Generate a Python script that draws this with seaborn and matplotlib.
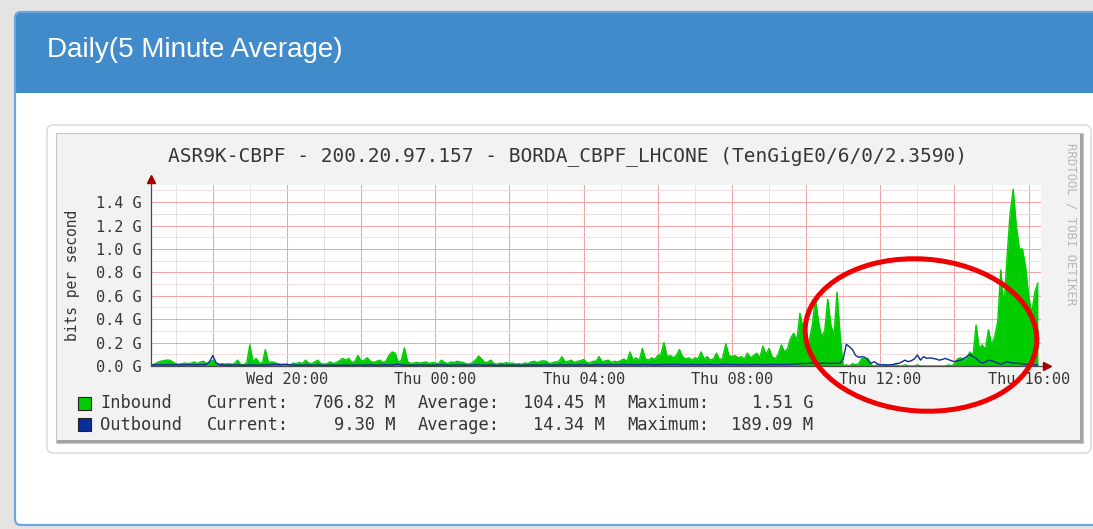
import numpy as np
import pandas as pd
import matplotlib
matplotlib.use("Agg")
import matplotlib.pyplot as plt
import seaborn as sns
from matplotlib.patches import Rectangle, FancyBboxPatch, Ellipse
from matplotlib.transforms import Affine2D
from matplotlib.ticker import MultipleLocator, FuncFormatter

# ---------------- data ----------------
panel_title = "Daily(5 Minute Average)"
graph_title = "ASR9K-CBPF - 200.20.97.157 - BORDA_CBPF_LHCONE (TenGigE0/6/0/2.3590)"
y_label = "bits per second"
watermark = "RRDTOOL / TOBI OETIKER"

start_hour = 16 + 20 / 60.0      # Wed 16:20 (hours since Wed 00:00)
step_minutes = 5

# Inbound, Gbit/s, 5-minute samples (one row = one hour)
inbound_g = [
    0.010, 0.015, 0.030, 0.040, 0.045, 0.050, 0.050, 0.035, 0.020, 0.015, 0.020, 0.025,
    0.020, 0.025, 0.035, 0.020, 0.035, 0.040, 0.020, 0.035, 0.050, 0.020, 0.015, 0.020,
    0.015, 0.020, 0.015, 0.020, 0.050, 0.015, 0.010, 0.030, 0.180, 0.040, 0.065, 0.030,
    0.020, 0.140, 0.030, 0.035, 0.030, 0.020, 0.015, 0.010, 0.015, 0.010, 0.025, 0.020,
    0.030, 0.020, 0.050, 0.025, 0.020, 0.035, 0.050, 0.020, 0.015, 0.020, 0.035, 0.020,
    0.030, 0.045, 0.065, 0.050, 0.065, 0.030, 0.040, 0.090, 0.040, 0.050, 0.070, 0.040,
    0.030, 0.040, 0.050, 0.030, 0.040, 0.090, 0.120, 0.110, 0.030, 0.050, 0.155, 0.040,
    0.020, 0.025, 0.030, 0.025, 0.030, 0.035, 0.020, 0.030, 0.025, 0.020, 0.050, 0.030,
    0.020, 0.035, 0.030, 0.040, 0.035, 0.030, 0.020, 0.015, 0.030, 0.050, 0.085, 0.060,
    0.030, 0.035, 0.050, 0.020, 0.015, 0.025, 0.020, 0.030, 0.020, 0.025, 0.015, 0.020,
    0.015, 0.025, 0.020, 0.035, 0.040, 0.030, 0.040, 0.045, 0.040, 0.020, 0.030, 0.035,
    0.040, 0.080, 0.035, 0.040, 0.050, 0.030, 0.040, 0.045, 0.055, 0.030, 0.025, 0.040,
    0.040, 0.080, 0.035, 0.045, 0.050, 0.030, 0.040, 0.035, 0.045, 0.060, 0.040, 0.120,
    0.050, 0.070, 0.045, 0.150, 0.060, 0.050, 0.070, 0.055, 0.090, 0.100, 0.200, 0.080,
    0.090, 0.070, 0.090, 0.140, 0.080, 0.060, 0.070, 0.050, 0.070, 0.060, 0.120, 0.060,
    0.080, 0.050, 0.060, 0.110, 0.050, 0.070, 0.190, 0.090, 0.080, 0.090, 0.070, 0.080,
    0.060, 0.110, 0.070, 0.090, 0.110, 0.070, 0.170, 0.100, 0.150, 0.080, 0.060, 0.100,
    0.180, 0.120, 0.150, 0.240, 0.280, 0.220, 0.450, 0.320, 0.150, 0.220, 0.350, 0.580,
    0.380, 0.250, 0.300, 0.570, 0.350, 0.260, 0.630, 0.260, 0.000, 0.010, 0.000, 0.020,
    0.010, 0.020, 0.065, 0.060, 0.065, 0.010, 0.000, 0.010, 0.000, 0.000, 0.010, 0.000,
    0.000, 0.010, 0.000, 0.000, 0.010, 0.000, 0.000, 0.000, 0.010, 0.000, 0.000, 0.000,
    0.000, 0.000, 0.000, 0.000, 0.000, 0.000, 0.010, 0.000, 0.020, 0.060, 0.070, 0.050,
    0.070, 0.120, 0.090, 0.350, 0.150, 0.180, 0.140, 0.310, 0.180, 0.250, 0.380, 0.820,
    0.500, 0.920, 1.300, 1.510, 1.200, 1.000, 1.000, 0.850, 0.600, 0.450, 0.630, 0.710,
]

# Outbound, Gbit/s, 5-minute samples
outbound_g = [
    0.008, 0.010, 0.012, 0.010, 0.009, 0.011, 0.010, 0.008, 0.012, 0.010, 0.009, 0.011,
    0.010, 0.012, 0.009, 0.011, 0.013, 0.010, 0.015, 0.040, 0.090, 0.030, 0.012, 0.010,
    0.008, 0.007, 0.009, 0.008, 0.010, 0.007, 0.006, 0.008, 0.010, 0.009, 0.008, 0.007,
    0.008, 0.010, 0.009, 0.012, 0.014, 0.012, 0.010, 0.015, 0.013, 0.010, 0.008, 0.007,
    0.008, 0.007, 0.009, 0.008, 0.006, 0.007, 0.009, 0.008, 0.007, 0.006, 0.008, 0.007,
    0.006, 0.007, 0.008, 0.007, 0.006, 0.008, 0.007, 0.009, 0.008, 0.007, 0.008, 0.009,
    0.008, 0.007, 0.008, 0.009, 0.010, 0.008, 0.009, 0.012, 0.015, 0.010, 0.008, 0.007,
    0.006, 0.007, 0.008, 0.009, 0.008, 0.007, 0.006, 0.007, 0.008, 0.009, 0.010, 0.008,
    0.007, 0.006, 0.007, 0.008, 0.009, 0.008, 0.007, 0.008, 0.009, 0.010, 0.009, 0.008,
    0.007, 0.008, 0.009, 0.007, 0.006, 0.007, 0.008, 0.007, 0.006, 0.007, 0.008, 0.007,
    0.006, 0.007, 0.008, 0.009, 0.008, 0.007, 0.008, 0.009, 0.010, 0.008, 0.007, 0.008,
    0.009, 0.010, 0.008, 0.009, 0.010, 0.008, 0.009, 0.010, 0.011, 0.009, 0.008, 0.009,
    0.010, 0.011, 0.009, 0.010, 0.011, 0.010, 0.009, 0.010, 0.011, 0.012, 0.010, 0.011,
    0.012, 0.010, 0.011, 0.012, 0.013, 0.011, 0.012, 0.010, 0.011, 0.012, 0.013, 0.012,
    0.013, 0.012, 0.014, 0.013, 0.012, 0.011, 0.012, 0.013, 0.012, 0.011, 0.012, 0.013,
    0.012, 0.013, 0.012, 0.011, 0.012, 0.013, 0.014, 0.012, 0.013, 0.012, 0.011, 0.012,
    0.013, 0.012, 0.011, 0.012, 0.013, 0.012, 0.011, 0.012, 0.013, 0.012, 0.013, 0.012,
    0.012, 0.013, 0.012, 0.014, 0.016, 0.018, 0.020, 0.022, 0.020, 0.023, 0.025, 0.022,
    0.024, 0.022, 0.025, 0.023, 0.022, 0.024, 0.023, 0.025, 0.060, 0.185, 0.165, 0.140,
    0.090, 0.075, 0.080, 0.075, 0.050, 0.023, 0.037, 0.020, 0.010, 0.012, 0.008, 0.010,
    0.012, 0.020, 0.023, 0.035, 0.050, 0.037, 0.045, 0.060, 0.094, 0.050, 0.080, 0.065,
    0.070, 0.065, 0.060, 0.050, 0.055, 0.065, 0.055, 0.045, 0.037, 0.045, 0.050, 0.065,
    0.080, 0.100, 0.080, 0.065, 0.040, 0.023, 0.035, 0.050, 0.045, 0.037, 0.025, 0.015,
    0.025, 0.037, 0.030, 0.023, 0.025, 0.023, 0.018, 0.015, 0.010, 0.012, 0.010, 0.0093,
]

tick_hours = [20, 24, 28, 32, 36, 40]
tick_labels = ["Wed 20:00", "Thu 00:00", "Thu 04:00", "Thu 08:00", "Thu 12:00", "Thu 16:00"]
y_ticks = [0.0, 0.2, 0.4, 0.6, 0.8, 1.0, 1.2, 1.4]

series_names = ["Inbound", "Outbound"]
series_colors = ["#00cc00", "#0b2d9c"]
stat_current = ["706.82 M", "9.30 M"]
stat_average = ["104.45 M", "14.34 M"]
stat_maximum = ["1.51 G", "189.09 M"]

# ---------------- figure ----------------
W, H = 1093, 529
sns.set_style("white")
plt.rcParams["font.family"] = ["DejaVu Sans"]
MONO = "DejaVu Sans Mono"
TXT = "#363636"

fig = plt.figure(figsize=(W / 100, H / 100), dpi=100)
fig.patch.set_facecolor("#e4e4e4")
T = Affine2D().scale(1.0 / W, -1.0 / H).translate(0, 1) + fig.transFigure

# panel body
fig.add_artist(FancyBboxPatch((15, 12), 1100, 513, boxstyle="round,pad=0,rounding_size=6",
                              transform=T, fc="white", ec="none", zorder=-10))
# header
fig.add_artist(FancyBboxPatch((15, 12), 1100, 81, boxstyle="round,pad=0,rounding_size=6",
                              transform=T, fc="#428bca", ec="none", zorder=-9))
fig.add_artist(Rectangle((15, 50), 1100, 43, transform=T, fc="#428bca", ec="none", zorder=-9))
# panel border
fig.add_artist(FancyBboxPatch((15, 12), 1100, 513, boxstyle="round,pad=0,rounding_size=6",
                              transform=T, fc="none", ec="#6ea6dc", lw=1.6, zorder=-8))
fig.text(47 / W, 1 - 50 / H, panel_title, color="white", fontsize=20,
         family="Liberation Sans", ha="left", va="center")

# graph card
fig.add_artist(FancyBboxPatch((47, 125), 1044, 328, boxstyle="round,pad=0,rounding_size=6",
                              transform=T, fc="white", ec="#d6d6d6", lw=1, zorder=-7))
# rrd image
fig.add_artist(Rectangle((56, 133), 1027, 310, transform=T, fc="#f2f2f2", ec="#c6c6c6",
                         lw=0.8, zorder=-6))
fig.add_artist(Rectangle((1080, 134), 2.5, 309, transform=T, fc="#a3a3a3", ec="none", zorder=-5))
fig.add_artist(Rectangle((57, 440), 1026, 2.5, transform=T, fc="#a3a3a3", ec="none", zorder=-5))

# ---------------- plot ----------------
x0, x1 = start_hour, start_hour + 24
ymax = 1.546
ax = fig.add_axes([151 / W, 1 - 366 / H, 890 / W, 181 / H])
ax.set_facecolor("white")

t = start_hour + np.arange(len(inbound_g)) * step_minutes / 60.0
df = pd.DataFrame({"t": t, "Inbound": inbound_g, "Outbound": outbound_g})

ax.fill_between(df["t"], 0, df["Inbound"], color=series_colors[0], lw=0, zorder=2)
sns.lineplot(data=df, x="t", y="Inbound", ax=ax, color=series_colors[0], lw=1.0, zorder=2)
sns.lineplot(data=df, x="t", y="Outbound", ax=ax, color=series_colors[1], lw=1.0, zorder=3)

ax.set_xlim(x0, x1)
ax.set_ylim(0, ymax)
ax.set_xlabel("")
ax.set_ylabel("")
for s in ax.spines.values():
    s.set_visible(False)

label_map = dict(zip(tick_hours, tick_labels))
ax.xaxis.set_major_locator(MultipleLocator(2))
ax.xaxis.set_minor_locator(MultipleLocator(1))
ax.xaxis.set_major_formatter(FuncFormatter(lambda v, p: label_map.get(int(round(v)), "")))
ax.set_yticks(y_ticks)
ax.yaxis.set_minor_locator(MultipleLocator(0.1))
ax.yaxis.set_major_formatter(FuncFormatter(lambda v, p: f"{v:.1f} G"))

ax.set_axisbelow(True)
ax.grid(which="major", axis="both", color="#f2a3a3", lw=0.75)
ax.grid(which="minor", axis="y", color="#f1dcdc", lw=0.7)
ax.grid(which="minor", axis="x", color="#e3e3e3", lw=0.7)

ax.tick_params(axis="both", which="major", length=2.2, width=0.7, color="#e08a8a",
               labelsize=11, labelcolor=TXT)
ax.tick_params(axis="both", which="minor", length=1.5, width=0.6, color="#c8c8c8")
ax.tick_params(axis="y", which="major", pad=4.3)
ax.tick_params(axis="x", which="major", pad=2.0)
for lab in ax.get_xticklabels() + ax.get_yticklabels():
    lab.set_family(MONO)

# axis lines with arrows
ax.plot([x0, x0], [0, ymax + 0.05], color="#4a4a4a", lw=0.9, clip_on=False, zorder=5)
ax.plot([x0, x1 + 0.12], [0, 0], color="#4a4a4a", lw=0.9, clip_on=False, zorder=5)
ax.plot([x0], [ymax + 0.05], marker="^", ms=6, color="#a00000", clip_on=False, zorder=6)
ax.plot([x1 + 0.15], [0], marker=">", ms=6, color="#a00000", clip_on=False, zorder=6)

# texts
fig.text(568 / W, 1 - 156 / H, graph_title, family=MONO, fontsize=14, color=TXT,
         ha="center", va="center")
fig.text(72 / W, 1 - 275 / H, y_label, family=MONO, fontsize=10.5, color=TXT,
         rotation=90, ha="center", va="center")
fig.text(1071 / W, 1 - 224 / H, watermark, family=MONO, fontsize=8.8, color="#b8b8b8",
         rotation=270, ha="center", va="center")

# legend
rows_y = [403.5, 424.5]
for k in range(2):
    yy = rows_y[k]
    fig.add_artist(Rectangle((78, yy - 6.5), 13, 13, transform=T, fc=series_colors[k],
                             ec="#222222", lw=0.8, zorder=4))
    kw = dict(family=MONO, fontsize=12.3, color=TXT, va="center")
    fig.text(100 / W, 1 - yy / H, series_names[k], ha="left", **kw)
    fig.text(207 / W, 1 - yy / H, "Current:", ha="left", **kw)
    fig.text(395 / W, 1 - yy / H, stat_current[k], ha="right", **kw)
    fig.text(418 / W, 1 - yy / H, "Average:", ha="left", **kw)
    fig.text(605 / W, 1 - yy / H, stat_average[k], ha="right", **kw)
    fig.text(627 / W, 1 - yy / H, "Maximum:", ha="left", **kw)
    fig.text(813 / W, 1 - yy / H, stat_maximum[k], ha="right", **kw)

# red annotation ellipse
fig.add_artist(Ellipse((921, 335), 232, 152, angle=4, transform=T, fill=False,
                       ec="#ee0000", lw=3.6, zorder=10))

fig.savefig("out.png", dpi=100, facecolor=fig.get_facecolor())
